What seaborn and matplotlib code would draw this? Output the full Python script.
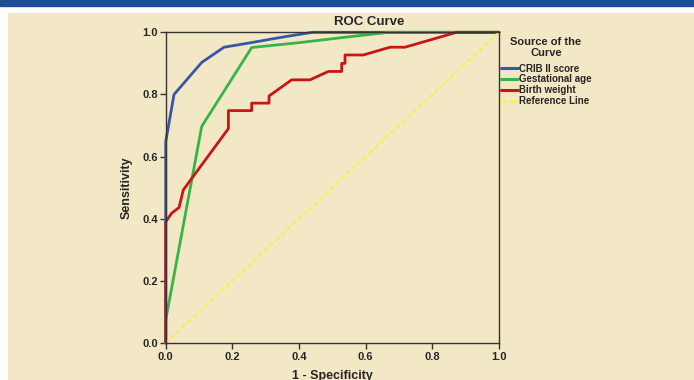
import matplotlib
matplotlib.use('Agg')
import matplotlib.pyplot as plt
from matplotlib.patches import Rectangle
import seaborn as sns

# ROC curve points
crib_fpr = [0, 0, 0.025, 0.108, 0.175, 0.258, 0.353, 0.44, 1.0]
crib_tpr = [0, 0.648, 0.80, 0.903, 0.952, 0.967, 0.985, 1.0, 1.0]

gest_fpr = [0, 0, 0.108, 0.258, 0.403, 0.553, 0.67, 1.0]
gest_tpr = [0, 0.074, 0.697, 0.951, 0.967, 0.986, 1.0, 1.0]

bw_fpr = [0, 0, 0.018, 0.04, 0.053, 0.188, 0.188, 0.258, 0.258, 0.31, 0.31,
          0.378, 0.433, 0.488, 0.528, 0.528, 0.538, 0.538, 0.593, 0.673,
          0.718, 0.873, 1.0]
bw_tpr = [0, 0.39, 0.418, 0.436, 0.493, 0.69, 0.748, 0.748, 0.772, 0.772,
          0.795, 0.847, 0.847, 0.874, 0.874, 0.90, 0.90, 0.927, 0.927, 0.952,
          0.952, 1.0, 1.0]

ref_x = [0, 1]
ref_y = [0, 1]

ticks = [0.0, 0.2, 0.4, 0.6, 0.8, 1.0]

cream = '#f3e8c6'

sns.set_theme(style='ticks')
plt.rcParams['font.family'] = ['Liberation Sans', 'DejaVu Sans']
plt.rcParams['font.weight'] = 'bold'

fig = plt.figure(figsize=(6.94, 3.8), dpi=100)
fig.patch.set_facecolor('white')

# page decoration: blue band on top, cream panel below
W, H = 694, 380
fig.add_artist(Rectangle((0, 1 - 6 / H), 1, 6 / H, transform=fig.transFigure,
                         color='#1f4c99', zorder=0))
fig.add_artist(Rectangle((8 / W, 0), 1, 1 - 13 / H, transform=fig.transFigure,
                         color=cream, zorder=0))

ax = fig.add_axes([165.7 / W, 1 - 343 / H, (499 - 165.7) / W, (343 - 32.3) / H])
ax.set_facecolor(cream)

sns.lineplot(x=crib_fpr, y=crib_tpr, sort=False, estimator=None, ax=ax,
             color='#3656a8', lw=2.0, label='CRIB II score', clip_on=False)
sns.lineplot(x=gest_fpr, y=gest_tpr, sort=False, estimator=None, ax=ax,
             color='#35b548', lw=2.0, label='Gestational age', clip_on=False)
sns.lineplot(x=bw_fpr, y=bw_tpr, sort=False, estimator=None, ax=ax,
             color='#cc1414', lw=2.0, label='Birth weight', clip_on=False)
sns.lineplot(x=ref_x, y=ref_y, sort=False, estimator=None, ax=ax,
             color='#f4ee66', lw=1.8, linestyle=(0, (2, 1)),
             label='Reference Line')

ax.set_xlim(0, 1)
ax.set_ylim(0, 1)
ax.set_xticks(ticks)
ax.set_yticks(ticks)
ax.set_xticklabels([f'{t:.1f}' for t in ticks], fontsize=8, fontweight='bold')
ax.set_yticklabels([f'{t:.1f}' for t in ticks], fontsize=8, fontweight='bold')
ax.tick_params(axis='both', direction='out', length=4, width=1, color='#333333')
ax.tick_params(axis='x', pad=2.5)
ax.tick_params(axis='y', pad=1.5)
for s in ax.spines.values():
    s.set_color('#333333')
    s.set_linewidth(1)

ax.set_xlabel('1 - Specificity', fontsize=9, fontweight='bold', labelpad=6)
ax.set_ylabel('Sensitivity', fontsize=9, fontweight='bold', labelpad=7)

fig.text(369 / W, 1 - 22 / H, 'ROC Curve', ha='center', va='center',
         fontsize=9.5, fontweight='bold')

# legend title drawn on its own so it can sit centred above the entries
fig.text(546 / W, 1 - 47.5 / H, 'Source of the\nCurve', ha='center', va='center',
         multialignment='center', fontsize=8, fontweight='bold', linespacing=1.1)

leg = ax.legend(loc='upper left', bbox_to_anchor=(501 / W, 1 - 63.5 / H),
                bbox_transform=fig.transFigure, frameon=False, fontsize=7,
                handlelength=1.7, handletextpad=0.15, labelspacing=0.1,
                borderaxespad=0, borderpad=0)
for h in leg.get_lines():
    h.set_linewidth(2.2)

fig.savefig('out.png', dpi=100)
